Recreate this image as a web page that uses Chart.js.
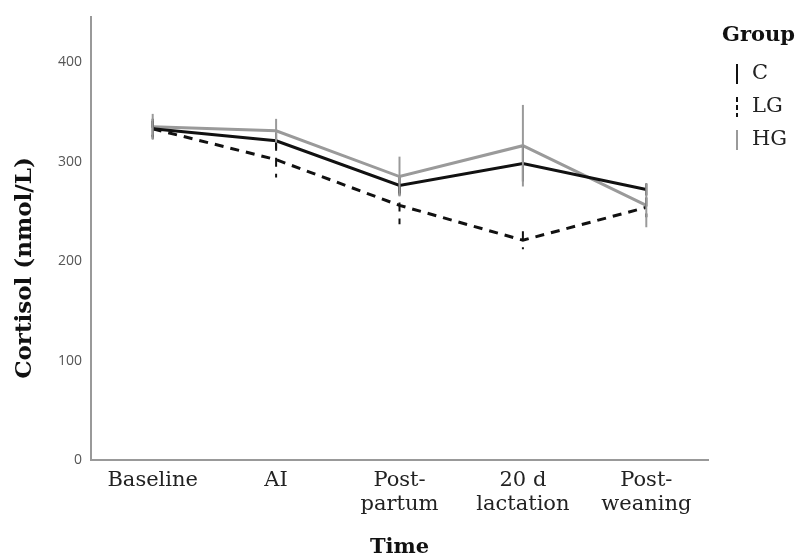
<!DOCTYPE html>
<html>
<head>
<meta charset="utf-8">
<script src="https://cdn.jsdelivr.net/npm/chart.js@4.4.1/dist/chart.umd.min.js"></script>
<style>
html,body{margin:0;padding:0;background:#fff;}
#wrap{width:796px;height:560px;}
</style>
</head>
<body>
<div id="wrap"><canvas id="c" width="796" height="560"></canvas></div>
<script>
const categories = [['Baseline'], ['AI'], ['Post-', 'partum'], ['20 d', 'lactation'], ['Post-', 'weaning']];
const groupNames = ['C', 'LG', 'HG'];
const cValues  = [333, 321, 276, 298, 272];
const lgValues = [333, 302, 256, 221, 254];
const hgValues = [335, 331, 285, 316, 256];
const cErr  = [8, 8, 8, 18, 6];
const lgErr = [10, 18, 19, 9, 10];
const hgErr = [13, 12, 20, 41, 22];
const yTicks = [0, 100, 200, 300, 400];
const yTitle = 'Cortisol (nmol/L)';
const legendTitle = 'Group';

const serif = "'DejaVu Serif', serif";

const errorBars = {
  id: 'errorBars',
  afterDatasetsDraw(chart) {
    const ctx = chart.ctx;
    const y = chart.scales.y;
    const x = chart.scales.x;
    for (let d = 0; d < chart.data.datasets.length; d++) {
      const ds = chart.data.datasets[d];
      ctx.save();
      ctx.strokeStyle = ds.borderColor;
      ctx.lineWidth = 2;
      ctx.setLineDash(ds.borderDash || []);
      ds.data.forEach((v, i) => {
        const e = ds.errors[i];
        const px = x.getPixelForValue(i);
        ctx.beginPath();
        ctx.moveTo(px, y.getPixelForValue(v + e));
        ctx.lineTo(px, y.getPixelForValue(v - e));
        ctx.stroke();
      });
      ctx.restore();
    }
  }
};

const extras = {
  id: 'extras',
  afterDraw(chart) {
    const ctx = chart.ctx;
    ctx.save();
    ctx.fillStyle = '#111';
    ctx.font = "bold 23px " + serif;
    ctx.textAlign = 'center';
    ctx.textBaseline = 'middle';
    ctx.translate(25, 268);
    ctx.rotate(-Math.PI / 2);
    ctx.fillText(yTitle, 0, 0);
    ctx.restore();

    ctx.save();
    ctx.fillStyle = '#111';
    ctx.font = "bold 21px " + serif;
    ctx.textBaseline = 'middle';
    ctx.textAlign = 'left';
    ctx.fillText(legendTitle, 722, 36);
    ctx.font = "21px " + serif;
    const ys = [74, 107, 140];
    chart.data.datasets.forEach((ds, i) => {
      ctx.strokeStyle = ds.borderColor;
      ctx.lineWidth = 2;
      ctx.setLineDash(ds.borderDash ? [5, 3] : []);
      ctx.beginPath();
      ctx.moveTo(737, ys[i] - 10);
      ctx.lineTo(737, ys[i] + 10);
      ctx.stroke();
      ctx.setLineDash([]);
      ctx.fillStyle = '#222';
      ctx.fillText(ds.label, 752, ys[i]);
    });
    ctx.restore();
  }
};

new Chart(document.getElementById('c'), {
  type: 'line',
  data: {
    labels: categories,
    datasets: [
      { label: groupNames[0], data: cValues, errors: cErr, borderColor: '#111', borderWidth: 3, pointRadius: 0, tension: 0 },
      { label: groupNames[1], data: lgValues, errors: lgErr, borderColor: '#111', borderWidth: 3, borderDash: [9, 7], pointRadius: 0, tension: 0 },
      { label: groupNames[2], data: hgValues, errors: hgErr, borderColor: '#9a9a9a', borderWidth: 3, pointRadius: 0, tension: 0 }
    ]
  },
  options: {
    responsive: false,
    animation: false,
    layout: { padding: { left: 0, right: 88, top: 15, bottom: 0 } },
    plugins: { legend: { display: false }, tooltip: { enabled: false } },
    scales: {
      x: {
        offset: true,
        grid: { display: false, drawTicks: false },
        border: { display: true, color: '#999', width: 2 },
        ticks: { color: '#222', font: { family: serif, size: 21, lineHeight: 1.15 }, padding: 8, maxRotation: 0, autoSkip: false },
        title: { display: true, text: 'Time', color: '#111', font: { family: serif, size: 21, weight: 'bold' }, padding: { top: 10, bottom: 0 } },
        afterFit(s) { s.height = 100; }
      },
      y: {
        min: 0, max: 445,
        afterBuildTicks(s) { s.ticks = yTicks.map(v => ({ value: v })); },
        grid: { display: false, drawTicks: false },
        border: { display: true, color: '#999', width: 2 },
        ticks: { color: '#555', font: { family: "'Open Sans', sans-serif", size: 14 }, padding: 9 },
        afterFit(s) { s.width = 91; }
      }
    }
  },
  plugins: [errorBars, extras]
});
</script>
</body>
</html>
